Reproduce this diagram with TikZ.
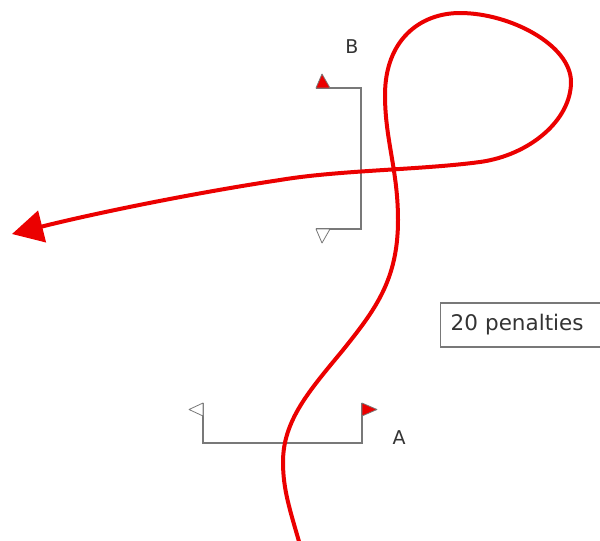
\documentclass[tikz,border=0pt]{standalone}
\usepackage{fontspec}
\setmainfont{DejaVu Sans}
\usetikzlibrary{arrows.meta}
\definecolor{routered}{RGB}{235,0,0}
\definecolor{gategray}{RGB}{120,120,120}
\begin{document}
\begin{tikzpicture}[
    x=1pt, y=-1pt,
    gate/.style={gategray, line width=1.4pt},
    flagon/.style={draw=gategray, fill=routered, line width=0.8pt, line join=round},
    flagoff/.style={draw=gategray, fill=white, line width=0.8pt, line join=round},
    route/.style={routered, line width=4pt, -{Triangle[length=31pt,width=32pt]}},
    gatelabel/.style={font=\fontsize{19}{21}\selectfont, text=black!80},
    penbox/.style={draw=gategray, line width=1.2pt, anchor=west, minimum height=44pt,
        text width=150pt, inner xsep=10pt, align=left, font=\fontsize{21.5}{24}\selectfont, text=black!80}
]
\useasboundingbox (0,0) rectangle (600,541);

% Gate B
\coordinate (btop) at (316,88);
\coordinate (bbot) at (316,229);
\draw[gate] (btop) -- (361,88) -- (361,229) -- (bbot);
\draw[flagon] (btop) -- (322,74) -- (330,88) -- cycle;
\draw[flagoff] (bbot) -- (322,243) -- (330,229) -- cycle;
\node[gatelabel] (blabel) at (352,47) {B};

% Gate A
\coordinate (aleft) at (203,403);
\coordinate (aright) at (362,403);
\draw[gate] (aleft) -- (203,443) -- (362,443) -- (aright);
\draw[flagoff] (aleft) -- (189,409.5) -- (203,416) -- cycle;
\draw[flagon] (aright) -- (377,409.5) -- (362,416) -- cycle;
\node[gatelabel] (alabel) at (399,438) {A};

% Penalty box
\node[penbox] (penalty) at (440,325) {20 penalties};

% Route
\coordinate (start) at (300,545);
\coordinate (tip) at (12,234);
\draw[route] (start) .. controls (290,510) and (283,490) .. (283,462)
    .. controls (283,420) and (310,390) .. (343,350)
    .. controls (375,310) and (398,280) .. (398,220)
    .. controls (398,170) and (385,140) .. (385,95)
    .. controls (385,40) and (420,13) .. (460,13)
    .. controls (510,13) and (571,45) .. (571,82)
    .. controls (571,120) and (530,155) .. (480,162)
    .. controls (420,170) and (340,170) .. (280,180)
    .. controls (200,192) and (100,212) .. (tip);
\end{tikzpicture}
\end{document}
